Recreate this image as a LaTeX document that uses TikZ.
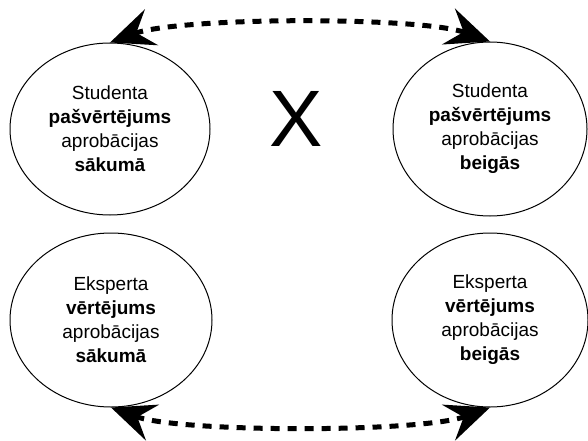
\documentclass[tikz,border=0pt]{standalone}
\usepackage{fontspec}
\setmainfont{Liberation Sans}
\usetikzlibrary{shapes.geometric,arrows.meta}

\begin{document}
\begin{tikzpicture}[x=1pt,y=1pt,line join=round,
  bubble/.style={draw,ellipse,line width=1pt,inner sep=0pt,align=center,
    font=\fontsize{19}{24}\selectfont},
  link/.style={line width=5pt,dash pattern=on 9pt off 8pt,looseness=0.5,
    {Stealth[length=44pt,width=38pt,inset=16pt]}-{Stealth[length=44pt,width=38pt,inset=16pt]}}]
\useasboundingbox (0,0) rectangle (588,440);
% student self-assessment
\node[bubble,minimum width=200pt,minimum height=172pt] (sakS) at (110,311) {Studenta\\\textbf{pašvērtējums}\\aprobācijas\\\textbf{sākumā}};
\node[bubble,minimum width=194pt,minimum height=174pt] (beiS) at (490,311) {Studenta\\\textbf{pašvērtējums}\\aprobācijas\\\textbf{beigās}};
% expert assessment
\node[bubble,minimum width=202pt,minimum height=174pt] (sakE) at (111,120) {Eksperta\\\textbf{vērtējums}\\aprobācijas\\\textbf{sākumā}};
\node[bubble,minimum width=196pt,minimum height=174pt] (beiE) at (490,120) {Eksperta\\\textbf{vērtējums}\\aprobācijas\\\textbf{beigās}};
\node[font=\fontsize{80}{80}\selectfont] (cross) at (296,321) {X};
% comparisons
\draw[link] (sakS.north) to[bend left=20] (beiS.north);
\draw[link] (sakE.south) to[bend right=20] (beiE.south);
\end{tikzpicture}
\end{document}
